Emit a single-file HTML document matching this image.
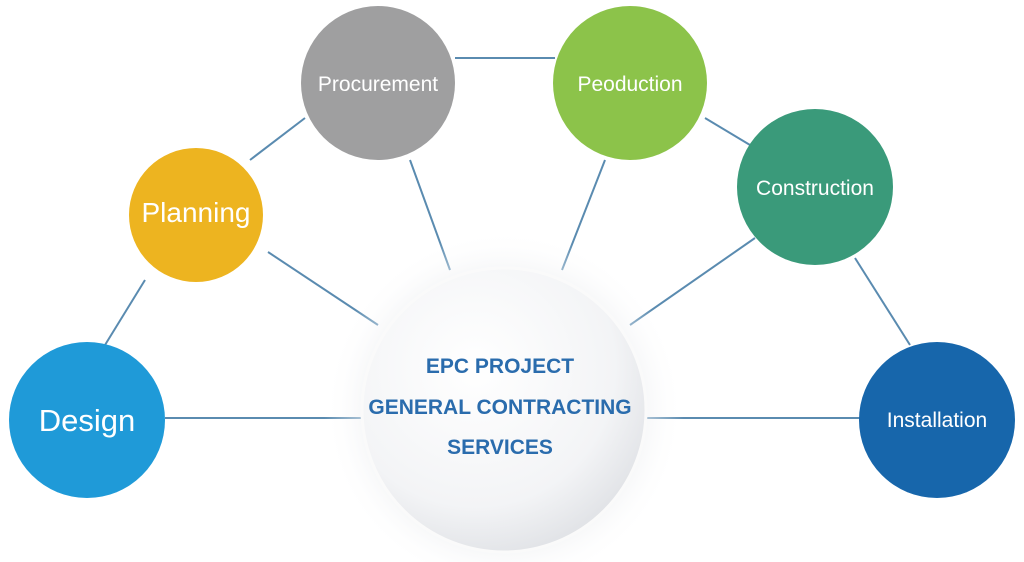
<!DOCTYPE html>
<html><head><style>
html,body{margin:0;padding:0;background:#fff;}
svg{display:block;}
text{font-family:"Liberation Sans",sans-serif;}
</style></head><body>
<svg width="1024" height="562" viewBox="0 0 1024 562" xmlns="http://www.w3.org/2000/svg">
<defs>
<radialGradient id="halo" cx="0.5" cy="0.5" r="0.5">
<stop offset="0.6" stop-color="#e4e6ea"/>
<stop offset="1" stop-color="#ffffff" stop-opacity="0"/>
</radialGradient>
<radialGradient id="cg" cx="0.4" cy="0.35" r="0.7">
<stop offset="0" stop-color="#ffffff"/>
<stop offset="0.7" stop-color="#f3f4f6"/>
<stop offset="1" stop-color="#dfe1e5"/>
</radialGradient>
</defs>
<rect width="1024" height="562" fill="#fff"/>
<g stroke="#5a8bb0" stroke-width="2" fill="none">
<line x1="105" y1="345" x2="145" y2="280"/>
<line x1="250" y1="160" x2="305" y2="118"/>
<line x1="455" y1="58" x2="555" y2="58"/>
<line x1="705" y1="118" x2="750" y2="145"/>
<line x1="855" y1="258" x2="910" y2="345"/>
<line x1="165" y1="418" x2="365" y2="418"/>
<line x1="268" y1="252" x2="378" y2="325"/>
<line x1="410" y1="160" x2="450" y2="270"/>
<line x1="605" y1="160" x2="562" y2="270"/>
<line x1="755" y1="238" x2="630" y2="325"/>
<line x1="645" y1="418" x2="860" y2="418"/>
</g>
<circle cx="504" cy="410" r="180" fill="url(#halo)"/>
<circle cx="504" cy="410" r="142" fill="url(#cg)" stroke="#fafafa" stroke-width="3"/>
<g fill="#2a6cad" font-weight="bold" font-size="21" text-anchor="middle">
<text x="500" y="373">EPC PROJECT</text>
<text x="500" y="414">GENERAL CONTRACTING</text>
<text x="500" y="454">SERVICES</text>
</g>
<circle cx="87" cy="420" r="78" fill="#1f9ad8"/>
<circle cx="196" cy="215" r="67" fill="#edb420"/>
<circle cx="378" cy="83" r="77" fill="#9f9fa0"/>
<circle cx="630" cy="83" r="77" fill="#8cc34a"/>
<circle cx="815" cy="187" r="78" fill="#3a9a7a"/>
<circle cx="937" cy="420" r="78" fill="#1766ab"/>
<g fill="#fff" text-anchor="middle">
<text x="87" y="431" font-size="31">Design</text>
<text x="196" y="222" font-size="28">Planning</text>
<text x="378" y="91" font-size="21">Procurement</text>
<text x="630" y="91" font-size="21">Peoduction</text>
<text x="815" y="195" font-size="21">Construction</text>
<text x="937" y="427" font-size="21">Installation</text>
</g>
</svg>
</body></html>
